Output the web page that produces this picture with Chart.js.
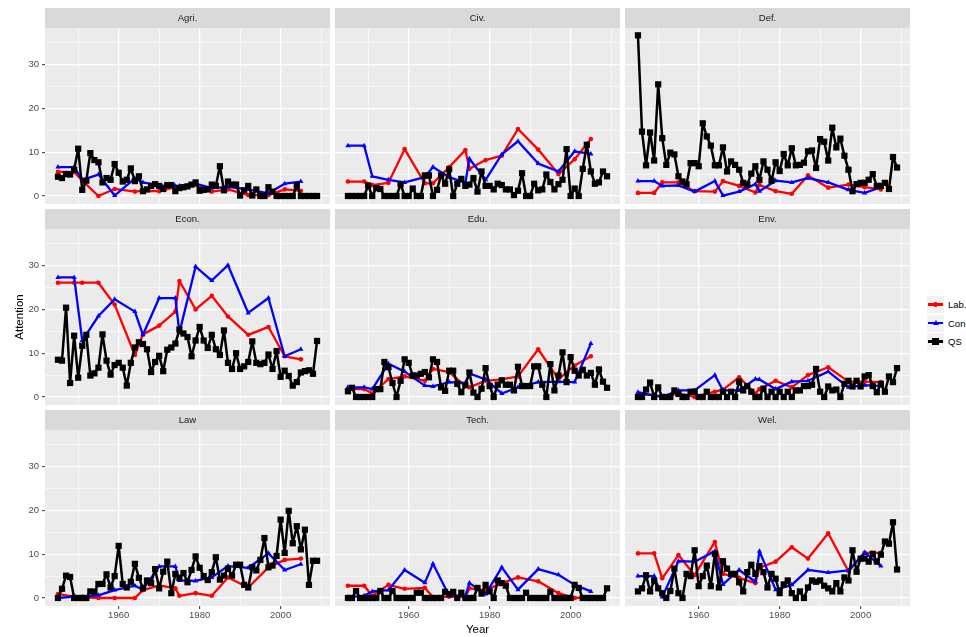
<!DOCTYPE html>
<html>
<head>
<meta charset="utf-8">
<script src="https://cdn.jsdelivr.net/npm/chart.js@4.4.1/dist/chart.umd.min.js"></script>
<style>
  body { margin: 0; background: #fff; width: 966px; height: 637px; position: relative; overflow: hidden; font-family: 'Liberation Sans', Arial, sans-serif; }
  canvas { position: absolute; }
  #legend { position: absolute; left: 927px; top: 296px; }
  .item { position: relative; height: 17px; margin-bottom: 1.5px; width: 40px; }
  .key { position: absolute; left: 0; top: 0; width: 17px; height: 17px; background: #F2F2F2; }
  .ln { position: absolute; left: 1px; right: 1px; top: 7.3px; height: 2.4px; }
  .mk { position: absolute; }
  .item span { position: absolute; left: 21px; top: 3px; font-size: 9.5px; color: #000; white-space: nowrap; }
</style>
</head>
<body>
<div id="legend">
  <div class="item"><div class="key"><div class="ln" style="background:#FF0000"></div><div class="mk" style="left:6px;top:6px;width:5px;height:5px;border-radius:50%;background:#FF0000"></div></div><span>Lab.</span></div>
  <div class="item"><div class="key"><div class="ln" style="background:#0000FF"></div><div class="mk" style="left:5.5px;top:5.5px;width:0;height:0;border-left:3px solid transparent;border-right:3px solid transparent;border-bottom:5px solid #0000FF"></div></div><span>Con</span></div>
  <div class="item"><div class="key"><div class="ln" style="background:#000"></div><div class="mk" style="left:5px;top:5px;width:7px;height:7px;background:#000"></div></div><span>QS</span></div>
</div>
<script>
// years
const qsYears = [1945, 1946, 1947, 1948, 1949, 1950, 1951, 1952, 1953, 1954,
  1955, 1956, 1957, 1958, 1959, 1960, 1961, 1962, 1963, 1964,
  1965, 1966, 1967, 1968, 1969, 1970, 1971, 1972, 1973, 1974,
  1975, 1976, 1977, 1978, 1979, 1980, 1981, 1982, 1983, 1984,
  1985, 1986, 1987, 1988, 1989, 1990, 1991, 1992, 1993, 1994,
  1995, 1996, 1997, 1998, 1999, 2000, 2001, 2002, 2003, 2004,
  2005, 2006, 2007, 2008, 2009];
const electionYears = [1945, 1949, 1951, 1955, 1959, 1964, 1966, 1970, 1974, 1975, 1979, 1983, 1987, 1992, 1997, 2001, 2005];

const xTicks = [1950, 1960, 1970, 1980, 1990, 2000, 2010];
const xLabels = [1960, 1980, 2000];
const yTicks = [0, 5, 10, 15, 20, 25, 30, 35];
const yLabels = [0, 10, 20, 30];

// Agri.
const agriLab = [5.5, 5.5, 3.5, 0, 1.6, 1.0, 1.2, 1.1, 2.0, 2.1, 2.6, 1.0, 1.5, 0.2, 0.2, 1.5, 1.2];
const agriCon = [6.6, 6.6, 3.7, 4.9, 0.1, 4.0, 3.1, 2.4, 2.3, 2.3, 2.8, 1.8, 2.1, 1.5, 0.6, 2.8, 3.3];
const agriQS = [4.4, 4.1, 5.0, 4.9, 6.0, 10.8, 1.4, 3.5, 9.8, 8.2, 7.7, 3.1, 4.1, 3.7, 7.3, 5.3, 3.3, 3.7, 6.3, 3.4,
  4.5, 1.1, 1.5, 2.3, 2.7, 2.3, 1.6, 2.5, 2.5, 1.1, 1.8, 2.0, 2.2, 2.6, 3.1, 1.2, 1.4, 1.5, 2.6, 2.3,
  6.8, 1.3, 3.3, 2.6, 2.6, 0.1, 1.3, 2.3, 0.1, 1.5, 0, 0, 2.0, 1.0, 0, 0, 0, 0, 0, 2.4, 0, 0, 0, 0, 0];

// Civ.
const civLab = [3.3, 3.3, 2.5, 3.0, 10.7, 2.9, 2.9, 6.6, 10.5, 6.2, 8.2, 9.2, 15.3, 10.6, 5.0, 8.4, 13.0];
const civCon = [11.5, 11.5, 4.5, 3.7, 3.1, 4.3, 6.6, 4.3, 3.0, 8.5, 3.7, 9.5, 12.5, 7.4, 5.6, 10.2, 9.6];
const civQS = [0, 0, 0, 0, 0, 2.4, 0, 1.8, 1.6, 0, 0, 0, 0, 2.7, 0, 0, 1.7, 0, 0, 4.7,
  4.7, 0, 1.4, 4.7, 2.8, 6.1, 0, 2.8, 3.9, 2.3, 2.6, 4.1, 1.0, 5.6, 2.3, 2.3, 1.5, 2.8, 2.5, 1.5,
  1.5, 0.2, 1.2, 5.2, 0, 0, 2.8, 1.3, 1.5, 4.9, 3.2, 1.5, 2.7, 3.7, 10.7, 0, 1.7, 0, 6.2, 11.7, 5.6, 2.8, 3.1, 5.6, 4.5];

// Def.
const defLab = [0.7, 0.7, 3.1, 3.1, 1.1, 1.0, 3.4, 2.3, 0.8, 2.5, 1.1, 0.5, 4.7, 1.9, 2.6, 2.0, 1.5];
const defCon = [3.4, 3.4, 2.3, 2.4, 1.0, 3.4, 0.1, 1.0, 2.7, 1.1, 3.5, 3.1, 4.1, 3.1, 1.4, 0.7, 2.0];
const defQS = [36.7, 14.7, 7.0, 14.5, 8.1, 25.5, 13.2, 7.1, 9.9, 9.5, 4.5, 3.3, 2.7, 7.5, 7.5, 6.8, 16.6, 13.6, 11.5, 7.0,
  7.0, 11.1, 5.6, 7.9, 7.1, 6.0, 3.0, 2.6, 5.1, 6.8, 3.7, 7.9, 6.0, 3.5, 7.7, 5.7, 9.6, 7.0, 10.9, 7.0,
  7.1, 7.6, 10.2, 10.4, 6.4, 13.0, 12.4, 8.1, 15.6, 11.1, 13.1, 9.2, 6.0, 1.1, 2.7, 3.0, 3.0, 3.7, 5.0, 2.3, 2.3, 3.0, 1.6, 8.9, 6.5];

// Econ.
const econLab = [26.1, 26.1, 26.1, 26.1, 21.1, 9.6, 14.3, 16.3, 19.5, 26.5, 20.0, 23.1, 18.4, 14.2, 16.0, 9.3, 8.6];
const econCon = [27.3, 27.3, 12.9, 18.5, 22.3, 19.5, 14.2, 22.6, 22.6, 14.7, 29.8, 26.6, 30.1, 19.2, 22.6, 9.3, 10.9];
const econQS = [8.5, 8.3, 20.4, 3.2, 14.0, 4.4, 11.7, 14.2, 4.9, 5.4, 6.7, 14.3, 8.3, 5.1, 7.3, 7.8, 6.7, 2.6, 7.8, 11.3,
  12.5, 12.1, 10.9, 5.7, 8.0, 9.4, 5.9, 10.8, 11.3, 12.2, 15.4, 14.5, 13.7, 9.3, 12.9, 16.0, 12.9, 11.2, 14.2, 10.9,
  9.6, 15.2, 7.8, 6.4, 10.0, 6.4, 7.0, 8.0, 12.7, 7.8, 7.5, 7.8, 9.7, 6.4, 10.5, 4.6, 6.0, 4.8, 2.6, 3.4, 5.6, 5.9, 6.1, 5.3, 12.8];

// Edu.
const eduLab = [1.8, 1.8, 0.8, 4.1, 4.7, 3.7, 6.4, 5.7, 2.5, 2.2, 3.7, 4.0, 4.7, 10.9, 4.1, 7.2, 9.3];
const eduCon = [2.2, 2.2, 1.8, 7.6, 5.8, 2.6, 2.4, 3.4, 3.2, 5.4, 4.0, 0.8, 2.2, 3.4, 3.5, 3.4, 12.2];
const eduQS = [1.3, 2.1, 0, 0, 0, 0, 0, 1.8, 1.8, 8.0, 6.8, 3.2, 0, 3.7, 8.6, 7.8, 4.9, 4.9, 5.3, 5.7,
  4.5, 8.6, 8.0, 2.2, 1.4, 6.0, 6.0, 3.0, 1.1, 2.7, 5.6, 1.0, 0, 1.9, 6.6, 2.5, 0, 2.8, 3.8, 2.8,
  2.8, 1.5, 6.9, 2.5, 2.5, 2.5, 7.0, 7.0, 2.8, 0, 7.5, 1.5, 4.9, 10.2, 3.4, 9.1, 6.0, 4.9, 6.2, 4.9, 5.5, 2.8, 6.3, 3.5, 2.1];

// Env.
const envLab = [0.5, 0.5, 0, 0.8, 0, 1.2, 1.7, 4.5, 0.8, 1.8, 3.7, 2.2, 5.0, 6.8, 3.5, 3.5, 3.4];
const envCon = [1.1, 0.3, 0, 1.5, 1.5, 5.0, 1.5, 1.5, 4.1, 4.0, 1.8, 3.5, 3.7, 5.8, 2.2, 2.7, 2.5];
const envQS = [0, 0, 1.7, 3.3, 0, 2.2, 0, 0, 0, 1.5, 0.7, 0, 0, 1.2, 1.2, 0, 0, 1.2, 0, 0,
  0, 1.2, 0, 1.2, 0, 3.5, 1.5, 2.5, 1.2, 0, 0, 1.9, 0, 1.2, 0, 1.2, 0, 1.2, 0, 1.5,
  1.5, 2.5, 2.5, 2.8, 6.4, 1.2, 0, 2.4, 1.5, 1.7, 0, 3.0, 3.7, 2.4, 3.7, 2.4, 4.7, 5.0, 2.5, 1.1, 3.0, 1.2, 4.7, 3.4, 6.6];

// Law
const lawLab = [0.9, 0.3, 0.2, 0, 0, 0, 1.8, 2.9, 2.2, 0.5, 1.1, 0.5, 4.7, 2.4, 7.0, 8.7, 9.0];
const lawCon = [0, 0.3, 0.2, 0.6, 1.8, 2.8, 1.9, 7.2, 7.2, 4.0, 3.9, 4.7, 7.3, 6.9, 10.2, 6.4, 7.7];
const lawQS = [0, 2.1, 5.1, 4.8, 0, 0, 0, 0, 1.5, 1.4, 3.2, 3.2, 5.4, 2.4, 5.0, 11.9, 3.2, 2.4, 3.7, 7.8,
  4.6, 2.2, 4.0, 3.4, 6.6, 2.2, 6.0, 8.3, 1.1, 5.5, 4.6, 5.7, 3.6, 6.4, 9.5, 6.9, 5.0, 4.1, 5.9, 9.3,
  4.2, 5.1, 6.7, 5.1, 7.6, 7.6, 3.0, 2.4, 7.0, 6.3, 8.7, 13.7, 7.0, 7.4, 9.6, 17.9, 10.3, 19.9, 12.5, 16.4, 11.1, 15.6, 3.0, 8.5, 8.5];

// Tech.
const techLab = [2.8, 2.8, 0.5, 3.0, 2.1, 2.3, 0.2, 0.3, 0.2, 2.2, 1.8, 3.4, 4.7, 3.8, 1.1, 0, 0.2];
const techCon = [0.2, 0.5, 1.5, 1.8, 6.4, 3.5, 7.8, 0.5, 0.5, 3.4, 0.9, 7.0, 1.9, 6.6, 5.3, 3.0, 1.5];
const techQS = [0, 0, 1.6, 0, 0, 0, 0, 0, 1.6, 0, 0, 1.6, 0, 0, 0, 0, 0, 1.2, 1.2, 0,
  0, 0, 0, 0, 1.4, 0.9, 1.4, 0, 1.2, 0, 0, 0, 2.3, 1.0, 3.0, 1.5, 0, 4.0, 3.4, 2.8,
  0, 0, 0, 0, 1.2, 0, 0, 0, 0, 0, 1.4, 0, 0, 0, 0, 0, 3.0, 2.3, 0, 0, 0, 0, 0, 0, 2.2];

// Wel.
const welLab = [10.2, 10.2, 4.5, 9.8, 5.2, 12.8, 5.5, 4.6, 3.4, 6.9, 8.3, 11.6, 9.0, 14.8, 6.1, 10.3, 10.3];
const welCon = [5.0, 5.0, 0.2, 8.4, 8.3, 10.7, 3.1, 6.4, 3.7, 10.7, 1.9, 3.0, 6.4, 5.8, 6.3, 10.4, 7.3];
const welQS = [1.5, 2.2, 5.2, 1.5, 4.0, 2.2, 1.1, 0, 1.6, 6.7, 1.1, 0, 5.5, 5.0, 10.9, 2.7, 5.0, 7.4, 2.7, 10.1,
  2.4, 8.4, 6.7, 5.5, 5.5, 3.6, 1.5, 5.9, 7.6, 5.5, 7.3, 5.9, 2.4, 5.5, 4.4, 1.1, 3.1, 4.0, 1.1, 0,
  1.5, 0, 2.4, 4.0, 3.7, 4.0, 2.8, 2.2, 1.5, 3.4, 1.5, 4.7, 4.0, 10.9, 6.0, 9.0, 9.0, 8.3, 10.1, 8.3, 9.9, 12.9, 12.4, 17.3, 6.5];

const panels = [
  ['Agri.', agriLab, agriCon, agriQS],
  ['Civ.', civLab, civCon, civQS],
  ['Def.', defLab, defCon, defQS],
  ['Econ.', econLab, econCon, econQS],
  ['Edu.', eduLab, eduCon, eduQS],
  ['Env.', envLab, envCon, envQS],
  ['Law', lawLab, lawCon, lawQS],
  ['Tech.', techLab, techCon, techQS],
  ['Wel.', welLab, welCon, welQS]
];

const FONT = "'Liberation Sans', Arial, sans-serif";
const colLeft = [0, 290, 580];
const rowTop = [8, 209, 410];
const clear = 'rgba(0,0,0,0)';

// grey panel + facet strip
const facetPanel = {
  id: 'facetPanel',
  beforeDraw(chart, args, opts) {
    const { ctx, chartArea: a } = chart;
    ctx.save();
    ctx.fillStyle = '#EBEBEB';
    ctx.fillRect(a.left, a.top, a.right - a.left, a.bottom - a.top);
    ctx.fillStyle = '#D9D9D9';
    ctx.fillRect(a.left, a.top - 20, a.right - a.left, 20);
    ctx.fillStyle = '#1A1A1A';
    ctx.font = '9.5px ' + FONT;
    ctx.textAlign = 'center';
    ctx.textBaseline = 'middle';
    ctx.fillText(opts.label, (a.left + a.right) / 2, a.top - 10);
    ctx.restore();
  }
};

const pts = (xs, ys) => xs.map((x, i) => ({ x: x, y: ys[i] }));

panels.forEach((p, i) => {
  const col = i % 3, row = Math.floor(i / 3);
  const cv = document.createElement('canvas');
  cv.width = 330;
  cv.height = 227;
  cv.style.left = colLeft[col] + 'px';
  cv.style.top = rowTop[row] + 'px';
  document.body.appendChild(cv);
  const showY = col === 0, showX = row === 2;

  new Chart(cv, {
    type: 'line',
    data: {
      datasets: [
        {
          label: 'Lab.', data: pts(electionYears, p[1]), order: 2,
          borderColor: '#FF0000', backgroundColor: '#FF0000', borderWidth: 2.3,
          pointStyle: 'circle', pointRadius: 2.3, pointBorderWidth: 0, tension: 0, borderJoinStyle: 'round'
        },
        {
          label: 'Con', data: pts(electionYears, p[2]), order: 1,
          borderColor: '#0000FF', backgroundColor: '#0000FF', borderWidth: 2.3,
          pointStyle: 'triangle', pointRadius: 3, pointBorderWidth: 0, tension: 0, borderJoinStyle: 'round'
        },
        {
          label: 'QS', data: pts(qsYears, p[3]), order: 0,
          borderColor: '#000000', backgroundColor: '#000000', borderWidth: 2.5,
          pointStyle: 'rect', pointRadius: 4.4, pointBorderWidth: 0, tension: 0, borderJoinStyle: 'round'
        }
      ]
    },
    options: {
      responsive: false,
      animation: false,
      events: [],
      layout: { autoPadding: false, padding: { top: 20, left: 0, right: 0, bottom: 0 } },
      plugins: {
        legend: { display: false },
        tooltip: { enabled: false },
        facetPanel: { label: p[0] }
      },
      scales: {
        x: {
          type: 'linear',
          min: 1941.8,
          max: 2012.2,
          afterBuildTicks: s => { s.ticks = xTicks.map(v => ({ value: v })); },
          afterFit: s => { s.height = 31; },
          border: { display: false },
          grid: {
            color: '#FFFFFF',
            lineWidth: c => xLabels.includes(c.tick.value) ? 1.3 : 0.6,
            drawTicks: true,
            tickLength: 3,
            tickWidth: 1,
            tickColor: c => (showX && xLabels.includes(c.tick.value)) ? '#333333' : clear
          },
          ticks: {
            autoSkip: false,
            maxRotation: 0,
            padding: 1,
            color: '#4D4D4D',
            font: { family: FONT, size: 9.5 },
            callback: v => (showX && xLabels.includes(v)) ? String(v) : ''
          },
          title: {
            display: i === 7,
            text: 'Year',
            color: '#000000',
            font: { family: FONT, size: 11.5 },
            padding: { top: 0, bottom: 0 }
          }
        },
        y: {
          type: 'linear',
          min: -1.83,
          max: 38.37,
          afterBuildTicks: s => { s.ticks = yTicks.map(v => ({ value: v })); },
          afterFit: s => { s.width = 45; },
          border: { display: false },
          grid: {
            color: '#FFFFFF',
            lineWidth: c => yLabels.includes(c.tick.value) ? 1.3 : 0.6,
            drawTicks: true,
            tickLength: 3,
            tickWidth: 1,
            tickColor: c => (showY && yLabels.includes(c.tick.value)) ? '#333333' : clear
          },
          ticks: {
            autoSkip: false,
            padding: 3,
            color: '#4D4D4D',
            font: { family: FONT, size: 9.5 },
            callback: v => (showY && yLabels.includes(v)) ? String(v) : ''
          },
          title: {
            display: i === 3,
            text: 'Attention',
            color: '#000000',
            font: { family: FONT, size: 11.5 },
            padding: { top: 13, bottom: 0 }
          }
        }
      }
    },
    plugins: [facetPanel]
  });
});
</script>
</body>
</html>
